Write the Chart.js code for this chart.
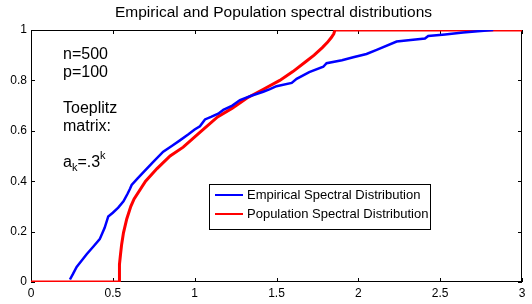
<!DOCTYPE html>
<html>
<head>
<meta charset="utf-8">
<script src="https://cdn.jsdelivr.net/npm/chart.js@4.4.1/dist/chart.umd.min.js"></script>
<style>
  html, body { margin: 0; padding: 0; background: #fff; }
  #wrap { width: 532px; height: 304px; }
</style>
</head>
<body>
<div id="wrap"><canvas id="chart" width="532" height="304"></canvas></div>
<script>
// values
const empX = [0.238, 0.255, 0.279, 0.31, 0.34, 0.38, 0.42, 0.45, 0.472, 0.50, 0.533, 0.565, 0.59, 0.605, 0.615,
  0.65, 0.686, 0.747, 0.808, 0.86, 0.91, 0.96, 1.0, 1.032, 1.063, 1.10, 1.144, 1.175, 1.23, 1.277, 1.35, 1.419,
  1.46, 1.50, 1.593, 1.623, 1.70, 1.786, 1.806, 1.90, 1.969, 2.05, 2.112, 2.234, 2.32, 2.407, 2.427, 2.53, 2.64,
  2.73, 2.824];
const empY = [0.01, 0.03, 0.06, 0.085, 0.11, 0.14, 0.17, 0.215, 0.26, 0.275, 0.295, 0.32, 0.35, 0.37, 0.385,
  0.41, 0.435, 0.477, 0.517, 0.54, 0.562, 0.585, 0.605, 0.618, 0.645, 0.655, 0.668, 0.683, 0.70, 0.722, 0.74, 0.755,
  0.765, 0.777, 0.79, 0.806, 0.833, 0.854, 0.868, 0.88, 0.892, 0.905, 0.921, 0.954, 0.96, 0.966, 0.976, 0.982, 0.99,
  0.995, 1.0];

const popX = [0, 0.538, 0.539, 0.542, 0.547, 0.554, 0.565, 0.585, 0.61, 0.63, 0.70, 0.77, 0.85, 0.93, 1.03,
  1.14, 1.23, 1.32, 1.42, 1.52, 1.60, 1.68, 1.73, 1.78, 1.81, 1.835, 1.85, 1.857, 3];
const popY = [0, 0, 0.03, 0.07, 0.11, 0.15, 0.195, 0.25, 0.30, 0.33, 0.40, 0.45, 0.50, 0.535, 0.593,
  0.655, 0.69, 0.73, 0.765, 0.80, 0.835, 0.875, 0.90, 0.93, 0.95, 0.97, 0.985, 1, 1];

const xTicks = [0, 0.5, 1, 1.5, 2, 2.5, 3];
const xTickLabels = ['0', '0.5', '1', '1.5', '2', '2.5', '3'];
const yTicks = [0, 0.2, 0.4, 0.6, 0.8, 1];
const yTickLabels = ['0', '0.2', '0.4', '0.6', '0.8', '1'];

const seriesNames = ['Empirical Spectral Distribution', 'Population Spectral Distribution'];
const seriesColors = ['#0000ff', '#ff0000'];
const titleText = 'Empirical and Population spectral distributions';
const noteLines = ['n=500', 'p=100', '', 'Toeplitz', 'matrix:', ''];

const FONT = '"Liberation Sans", Arial, Helvetica, sans-serif';

const toPoints = (xs, ys) => xs.map((x, i) => ({ x: x, y: ys[i] }));

// box, inward ticks, title
const frame = {
  id: 'frame',
  beforeDatasetsDraw(chart) {
    const ctx = chart.ctx;
    const a = chart.chartArea;
    const xs = chart.scales.x, ys = chart.scales.y;
    const tl = 4;
    ctx.save();
    ctx.strokeStyle = '#000';
    ctx.lineWidth = 1;
    ctx.strokeRect(a.left + 0.5, a.top + 0.5, a.right - a.left - 1, a.bottom - a.top - 1);
    ctx.beginPath();
    xTicks.forEach(v => {
      const px = Math.round(xs.getPixelForValue(v)) + 0.5;
      ctx.moveTo(px, a.bottom); ctx.lineTo(px, a.bottom - tl);
      ctx.moveTo(px, a.top); ctx.lineTo(px, a.top + tl);
    });
    yTicks.forEach(v => {
      const py = Math.round(ys.getPixelForValue(v)) + 0.5;
      ctx.moveTo(a.left, py); ctx.lineTo(a.left + tl, py);
      ctx.moveTo(a.right, py); ctx.lineTo(a.right - tl, py);
    });
    ctx.stroke();

    ctx.fillStyle = '#000';
    ctx.font = '15.5px ' + FONT;
    ctx.textAlign = 'center';
    ctx.textBaseline = 'middle';
    ctx.fillText(titleText, (a.left + a.right) / 2 - 3, 13);
    ctx.restore();
  },
  afterDatasetsDraw(chart) {
    const ctx = chart.ctx;
    const a = chart.chartArea;
    ctx.save();
    ctx.fillStyle = '#000';
    ctx.textAlign = 'left';
    ctx.textBaseline = 'middle';
    // annotation
    const nx = a.left + 32;
    let ny = a.top + 25;
    const lh = 18;
    ctx.font = '16px ' + FONT;
    noteLines.forEach(t => { if (t) ctx.fillText(t, nx, ny); ny += lh; });
    let cx = nx;
    ctx.fillText('a', cx, ny); cx += ctx.measureText('a').width;
    ctx.font = '11px ' + FONT;
    ctx.fillText('k', cx, ny + 5); cx += ctx.measureText('k').width;
    ctx.font = '16px ' + FONT;
    ctx.fillText('=.3', cx, ny); cx += ctx.measureText('=.3').width;
    ctx.font = '11px ' + FONT;
    ctx.fillText('k', cx, ny - 7);

    // legend
    const lx = a.left + 178, ly = a.top + 154, lw = 221, lhgt = 45;
    ctx.fillStyle = '#fff';
    ctx.fillRect(lx, ly, lw, lhgt);
    ctx.strokeStyle = '#000';
    ctx.lineWidth = 1;
    ctx.strokeRect(lx + 0.5, ly + 0.5, lw, lhgt);
    ctx.font = '13px ' + FONT;
    seriesNames.forEach((name, i) => {
      const ry = ly + 11 + i * 19;
      ctx.strokeStyle = seriesColors[i];
      ctx.lineWidth = 2;
      ctx.beginPath();
      ctx.moveTo(lx + 6, ry); ctx.lineTo(lx + 34, ry);
      ctx.stroke();
      ctx.fillStyle = '#000';
      ctx.fillText(name, lx + 38, ry);
    });
    ctx.restore();
  }
};

new Chart(document.getElementById('chart'), {
  type: 'scatter',
  data: {
    datasets: [
      {
        label: seriesNames[0],
        data: toPoints(empX, empY),
        showLine: true,
        borderColor: seriesColors[0],
        borderWidth: 2.5,
        pointRadius: 0,
        tension: 0
      },
      {
        label: seriesNames[1],
        data: toPoints(popX, popY),
        showLine: true,
        borderColor: seriesColors[1],
        borderWidth: 3,
        pointRadius: 0,
        tension: 0
      }
    ]
  },
  options: {
    responsive: false,
    animation: false,
    devicePixelRatio: 1,
    layout: { padding: { left: 0, right: 10, top: 30, bottom: 0 } },
    plugins: {
      legend: { display: false },
      tooltip: { enabled: false },
      title: { display: false }
    },
    scales: {
      x: {
        type: 'linear',
        min: 0,
        max: 3,
        afterBuildTicks: s => { s.ticks = xTicks.map(v => ({ value: v })); },
        afterFit: s => { s.height = 22; },
        ticks: {
          callback: (v, i) => xTickLabels[i],
          color: '#000',
          font: { size: 12, family: FONT },
          padding: 4,
          maxRotation: 0,
          autoSkip: false
        },
        grid: { display: false, drawTicks: false },
        border: { display: false }
      },
      y: {
        type: 'linear',
        min: 0,
        max: 1,
        afterBuildTicks: s => { s.ticks = yTicks.map(v => ({ value: v })); },
        afterFit: s => { s.width = 31; },
        ticks: {
          callback: (v, i) => yTickLabels[i],
          color: '#000',
          font: { size: 12, family: FONT },
          padding: 4,
          autoSkip: false
        },
        grid: { display: false, drawTicks: false },
        border: { display: false }
      }
    }
  },
  plugins: [frame]
});
</script>
</body>
</html>
